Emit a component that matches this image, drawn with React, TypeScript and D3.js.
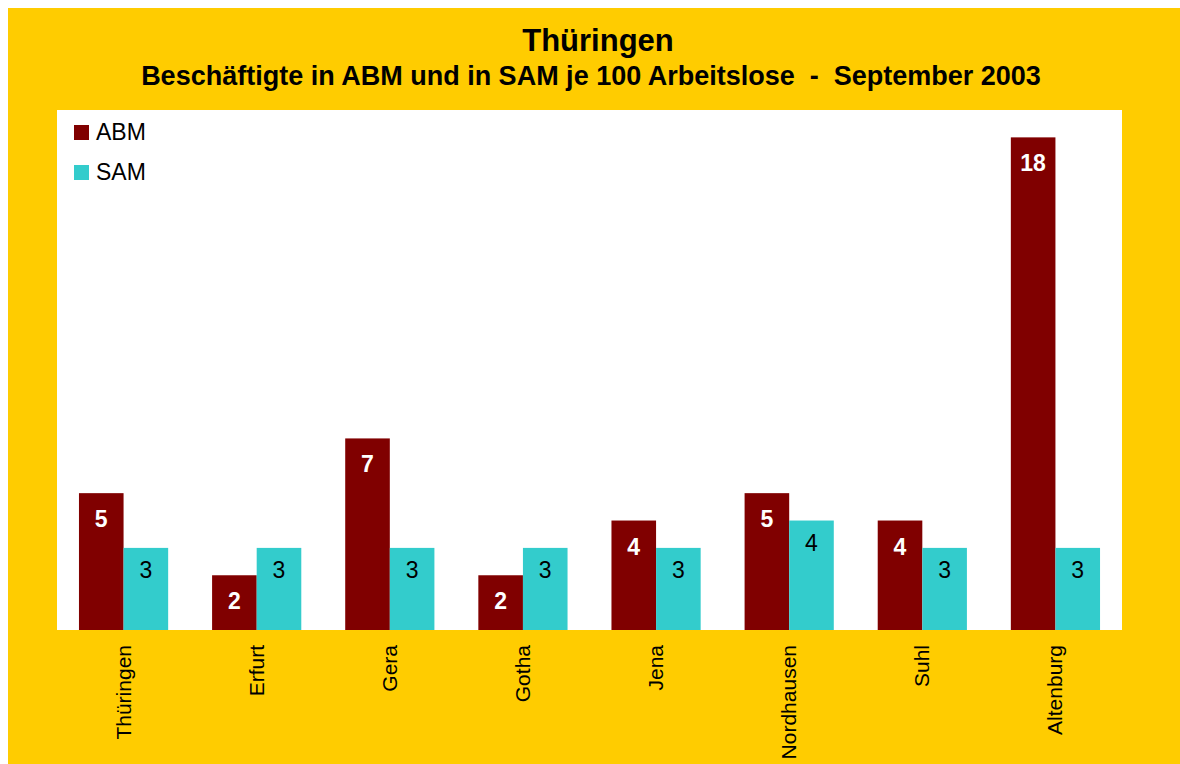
import React from "react";
import * as d3 from "d3";

const categories = ["Thüringen", "Erfurt", "Gera", "Gotha", "Jena", "Nordhausen", "Suhl", "Altenburg"];
const abmValues = [5, 2, 7, 2, 4, 5, 4, 18];
const samValues = [3, 3, 3, 3, 3, 4, 3, 3];
const seriesNames = ["ABM", "SAM"];
const seriesColors = ["#800000", "#33CCCC"];

const title = "Thüringen";
const subtitle = "Beschäftigte in ABM und in SAM je 100 Arbeitslose  -  September 2003";

const App = () => {
  const svgRef = React.useRef(null);
  const width = 1180;
  const height = 764;
  const plot = { left: 57, right: 1122, top: 110, bottom: 630 };

  React.useEffect(() => {
    drawChart();
  }, []);

  const drawChart = () => {
    const svg = d3.select(svgRef.current);
    svg.selectAll("*").remove();
    const font = "Arial, 'Liberation Sans', sans-serif";

    svg.append("rect").attr("x", 0).attr("y", 0).attr("width", width).attr("height", height).attr("fill", "#fff");
    svg.append("rect").attr("x", 8).attr("y", 8).attr("width", width - 8).attr("height", height - 8).attr("fill", "#FFCC00");
    svg
      .append("rect")
      .attr("x", plot.left)
      .attr("y", plot.top)
      .attr("width", plot.right - plot.left)
      .attr("height", plot.bottom - plot.top)
      .attr("fill", "#fff");

    svg
      .append("text")
      .attr("x", 598)
      .attr("y", 51)
      .attr("text-anchor", "middle")
      .style("font", `bold 31px ${font}`)
      .text(title);
    svg
      .append("text")
      .attr("x", 591)
      .attr("y", 85)
      .attr("text-anchor", "middle")
      .style("font", `bold 27px ${font}`)
      .style("white-space", "pre")
      .text(subtitle);

    const x0 = d3.scaleBand().domain(categories).range([plot.left, plot.right]).padding(0);
    const bw = x0.bandwidth();
    const x1 = d3
      .scaleBand()
      .domain(seriesNames)
      .range([bw * 0.165, bw * 0.835])
      .padding(0);
    const y = d3.scaleLinear().domain([0, 19]).range([plot.bottom, plot.top]);
    const color = d3.scaleOrdinal().domain(seriesNames).range(seriesColors);

    const rows = categories.map((c, i) => ({ cat: c, ABM: abmValues[i], SAM: samValues[i] }));

    const groups = svg
      .append("g")
      .selectAll("g")
      .data(rows)
      .join("g")
      .attr("transform", (d) => `translate(${x0(d.cat)},0)`);

    groups
      .selectAll("rect")
      .data((d) => seriesNames.map((k) => ({ key: k, value: d[k] })))
      .join("rect")
      .attr("x", (d) => x1(d.key))
      .attr("y", (d) => y(d.value))
      .attr("width", x1.bandwidth())
      .attr("height", (d) => y(0) - y(d.value))
      .attr("fill", (d) => color(d.key));

    groups
      .selectAll("text")
      .data((d) => seriesNames.map((k) => ({ key: k, value: d[k] })))
      .join("text")
      .attr("x", (d) => x1(d.key) + x1.bandwidth() / 2)
      .attr("y", (d) => y(d.value) + (d.key === "ABM" ? 34 : 30))
      .attr("text-anchor", "middle")
      .attr("fill", (d) => (d.key === "ABM" ? "#fff" : "#000"))
      .style("font", (d) => (d.key === "ABM" ? `bold 23px ${font}` : `23px ${font}`))
      .text((d) => d.value);

    // category labels, rotated
    svg
      .append("g")
      .selectAll("text")
      .data(categories)
      .join("text")
      .attr("transform", (d) => `translate(${x0(d) + bw / 2 + 7},645) rotate(-90)`)
      .attr("text-anchor", "end")
      .style("font", `21px ${font}`)
      .text((d) => d);

    // legend
    const legend = svg
      .append("g")
      .selectAll("g")
      .data(seriesNames)
      .join("g")
      .attr("transform", (d, i) => `translate(74,${125 + i * 40})`);
    legend.append("rect").attr("width", 15).attr("height", 15).attr("fill", (d) => color(d));
    legend
      .append("text")
      .attr("x", 22)
      .attr("y", 15)
      .style("font", `23px ${font}`)
      .text((d) => d);
  };

  return (
    <svg
      ref={svgRef}
      width={width}
      height={height}
      style={{ position: "fixed", left: 0, top: 0, display: "block" }}
    />
  );
};
export default App;
